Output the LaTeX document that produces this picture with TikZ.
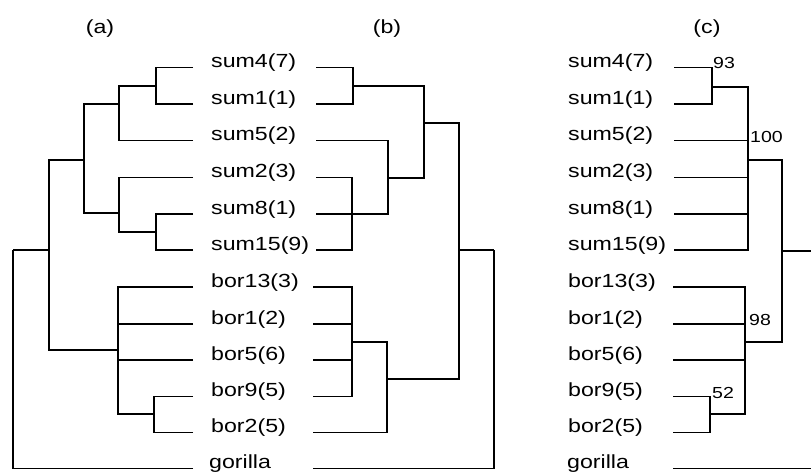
\documentclass[tikz,border=0pt]{standalone}
\usepackage{fontspec}
\setmainfont{Liberation Sans}
\usepackage{graphicx}
% labels are set slightly widened
\newcommand{\wide}[1]{\scalebox{1.22}[1]{#1}}
\begin{document}
\begin{tikzpicture}[x=1pt,y=-1pt,
  tree/.style={line width=1.5pt, line join=miter},
  taxon/.style={anchor=base west, inner sep=0pt, font=\fontsize{19}{19}\selectfont},
  support/.style={anchor=base west, inner sep=0pt, font=\fontsize{16}{16}\selectfont},
  panel/.style={anchor=base, inner sep=0pt, font=\fontsize{19}{19}\selectfont}]
\useasboundingbox (0,0) rectangle (811,475);

% panel captions
\node[panel] (pa) at (100,33) {\wide{(a)}};
\node[panel] (pb) at (387,33) {\wide{(b)}};
\node[panel] (pc) at (707,33) {\wide{(c)}};

% taxa shared by trees (a) and (b)
\node[taxon] (t1)  at (211,67.5)  {\wide{sum4(7)}};
\node[taxon] (t2)  at (211,104)   {\wide{sum1(1)}};
\node[taxon] (t3)  at (211,140.5) {\wide{sum5(2)}};
\node[taxon] (t4)  at (211,177.5) {\wide{sum2(3)}};
\node[taxon] (t5)  at (211,214)   {\wide{sum8(1)}};
\node[taxon] (t6)  at (211,250)   {\wide{sum15(9)}};
\node[taxon] (t7)  at (211,287)   {\wide{bor13(3)}};
\node[taxon] (t8)  at (211,324)   {\wide{bor1(2)}};
\node[taxon] (t9)  at (211,360)   {\wide{bor5(6)}};
\node[taxon] (t10) at (211,396.5) {\wide{bor9(5)}};
\node[taxon] (t11) at (211,432.5) {\wide{bor2(5)}};
\node[taxon] (t12) at (209,468.5) {\wide{gorilla}};

% taxa of tree (c)
\node[taxon] (u1)  at (568,67.5)  {\wide{sum4(7)}};
\node[taxon] (u2)  at (568,104)   {\wide{sum1(1)}};
\node[taxon] (u3)  at (568,140.5) {\wide{sum5(2)}};
\node[taxon] (u4)  at (568,177.5) {\wide{sum2(3)}};
\node[taxon] (u5)  at (568,214)   {\wide{sum8(1)}};
\node[taxon] (u6)  at (568,250)   {\wide{sum15(9)}};
\node[taxon] (u7)  at (568,287)   {\wide{bor13(3)}};
\node[taxon] (u8)  at (568,324)   {\wide{bor1(2)}};
\node[taxon] (u9)  at (568,360)   {\wide{bor5(6)}};
\node[taxon] (u10) at (568,396.5) {\wide{bor9(5)}};
\node[taxon] (u11) at (568,432.5) {\wide{bor2(5)}};
\node[taxon] (u12) at (567,468.5) {\wide{gorilla}};

% ---------- tree (a), growing to the left ----------
\coordinate (a1)  at (193,67.5);
\coordinate (a2)  at (193,104);
\coordinate (a3)  at (193,140.5);
\coordinate (a4)  at (193,177.5);
\coordinate (a5)  at (193,214);
\coordinate (a6)  at (193,250);
\coordinate (a7)  at (193,287);
\coordinate (a8)  at (193,324);
\coordinate (a9)  at (193,360);
\coordinate (a10) at (193,396.5);
\coordinate (a11) at (193,432.5);
\coordinate (a12) at (193,468.5);
\coordinate (A1) at (156,86);
\coordinate (A2) at (119,104);
\coordinate (A3) at (156,232);
\coordinate (A4) at (119,213);
\coordinate (A5) at (84,160);
\coordinate (A6) at (154,414);
\coordinate (A7) at (118,350);
\coordinate (A8) at (49,250);
\coordinate (A9) at (13,250);
\draw[tree] (a1) -| (A1) (a2) -| (A1);
\draw[tree] (A1) -| (A2) (a3) -| (A2);
\draw[tree] (a5) -| (A3) (a6) -| (A3);
\draw[tree] (a4) -| (A4) (A3) -| (A4);
\draw[tree] (A2) -| (A5) (A4) -| (A5);
\draw[tree] (a10) -| (A6) (a11) -| (A6);
\draw[tree] (a7) -| (A7) (a8) -| (A7) (a9) -| (A7) (A6) -| (A7);
\draw[tree] (A5) -| (A8) (A7) -| (A8);
\draw[tree] (A8) -| (A9) (a12) -| (A9);

% ---------- tree (b), growing to the right ----------
\coordinate (b1)  at (316,67.5);
\coordinate (b2)  at (316,104);
\coordinate (b3)  at (316,140.5);
\coordinate (b4)  at (316,177.5);
\coordinate (b5)  at (316,214);
\coordinate (b6)  at (316,250);
\coordinate (b7)  at (313,287);
\coordinate (b8)  at (313,324);
\coordinate (b9)  at (313,360);
\coordinate (b10) at (313,396.5);
\coordinate (b11) at (313,432.5);
\coordinate (b12) at (313,468.5);
\coordinate (B1) at (353,86);
\coordinate (B2) at (352,214);
\coordinate (B3) at (388,178);
\coordinate (B4) at (424,123);
\coordinate (B5) at (352,342);
\coordinate (B6) at (387,379);
\coordinate (B7) at (459,250);
\coordinate (B8) at (494,250);
\draw[tree] (b1) -| (B1) (b2) -| (B1);
\draw[tree] (b4) -| (B2) (b6) -| (B2);
\draw[tree] (b3) -| (B3) (b5) -| (B3) (B2) -| (B3);
\draw[tree] (B1) -| (B4) (B3) -| (B4);
\draw[tree] (b7) -| (B5) (b8) -| (B5) (b9) -| (B5) (b10) -| (B5);
\draw[tree] (B5) -| (B6) (b11) -| (B6);
\draw[tree] (B4) -| (B7) (B6) -| (B7);
\draw[tree] (B7) -| (B8) (b12) -| (B8);

% ---------- tree (c), with support values ----------
\coordinate (c1)  at (674,67.5);
\coordinate (c2)  at (674,104);
\coordinate (c3)  at (674,140.5);
\coordinate (c4)  at (674,177.5);
\coordinate (c5)  at (674,214);
\coordinate (c6)  at (674,250);
\coordinate (c7)  at (673,287);
\coordinate (c8)  at (673,324);
\coordinate (c9)  at (673,360);
\coordinate (c10) at (673,396.5);
\coordinate (c11) at (673,432.5);
\coordinate (c12) at (673,468.5);
\coordinate (C1) at (712,87);
\coordinate (C2) at (748,160);
\coordinate (C3) at (710,414);
\coordinate (C4) at (745,342);
\coordinate (C5) at (782,251);
\coordinate (cR) at (811,251);
\coordinate (cG) at (811,468.5);
\draw[tree] (c1) -| (C1) (c2) -| (C1);
\draw[tree] (C1) -| (C2) (c3) -| (C2) (c4) -| (C2) (c5) -| (C2) (c6) -| (C2);
\draw[tree] (c10) -| (C3) (c11) -| (C3);
\draw[tree] (c7) -| (C4) (c8) -| (C4) (c9) -| (C4) (C3) -| (C4);
\draw[tree] (C2) -| (C5) (C4) -| (C5);
\draw[tree] (C5) -- (cR);
\draw[tree] (c12) -- (cG);

\node[support] (s93)  at (713,68.5) {\wide{93}};
\node[support] (s100) at (750,142)  {\wide{100}};
\node[support] (s98)  at (749,325)  {\wide{98}};
\node[support] (s52)  at (712,398)  {\wide{52}};
\end{tikzpicture}
\end{document}
